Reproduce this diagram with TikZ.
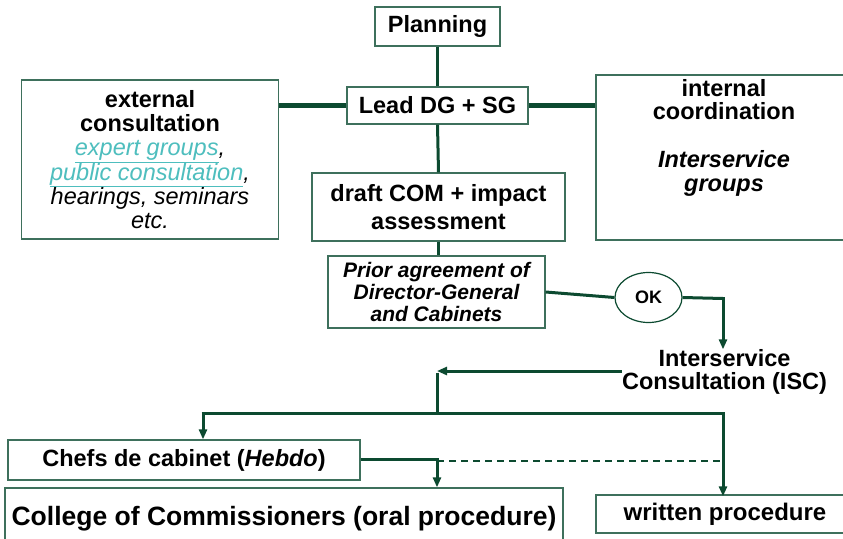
\documentclass[tikz,border=0pt]{standalone}
\usepackage{fontspec}
\setmainfont{Liberation Sans}
\usetikzlibrary{arrows.meta,shapes.geometric}
\definecolor{lineg}{RGB}{12,74,48}
\definecolor{boxg}{RGB}{62,112,92}
\definecolor{linkc}{RGB}{78,190,190}
\tikzset{
  box/.style={draw=boxg,line width=1.3pt,fill=white,inner sep=0pt,align=center,font=\bfseries\fontsize{23.5}{24.5}\selectfont},
  conn/.style={draw=lineg,line width=3pt},
  thick conn/.style={draw=lineg,line width=5pt},
  arr/.style={draw=lineg,line width=3pt,-{Triangle[length=10pt,width=8pt]}},
  plain/.style={inner sep=0pt,align=center}
}
\newcommand{\lnk}[1]{\textcolor{linkc}{\underline{\textit{#1}}}}
\begin{document}
\begin{tikzpicture}[x=1pt,y=-1pt]
\useasboundingbox (0,0) rectangle (843,538);
% nodes
\node[box,minimum width=125pt,minimum height=39pt] (plan) at (437.5,26.5) {Planning};
\node[box,minimum width=181pt,minimum height=37pt] (lead) at (437.5,105.5) {Lead DG + SG};
\node[box,minimum width=257pt,minimum height=159pt,font=\mdseries\fontsize{23.5}{24.2}\selectfont] (ext) at (150,159.5)
  {\textbf{external}\\ \textbf{consultation}\\
   \lnk{expert groups}\textit{,}\\
   \lnk{public consultation}\textit{,}\\
   \textit{hearings, seminars}\\ \textit{etc.}};
\node[box,minimum width=258pt,minimum height=165pt] (int) at (725,157.5) {};
\node[plain,anchor=north,font=\bfseries\fontsize{23.5}{23.7}\selectfont] (inttext) at (724,79)
  {internal\\coordination\\[23.7pt] \textit{Interservice}\\ \textit{groups}};
\node[box,minimum width=253pt,minimum height=68pt,font=\bfseries\fontsize{23.5}{28}\selectfont] (draft) at (438.5,207) {draft COM + impact\\assessment};
\node[box,minimum width=217pt,minimum height=72pt,font=\bfseries\itshape\fontsize{21}{22}\selectfont] (prior) at (436.5,292) {Prior agreement of\\Director-General\\and Cabinets};
\node[draw=lineg,line width=1.2pt,ellipse,fill=white,minimum width=67pt,minimum height=50pt,inner sep=0pt,font=\bfseries\fontsize{18}{20}\selectfont] (ok) at (648.5,297.5) {OK};
\node[plain,font=\bfseries\fontsize{23.5}{23}\selectfont] (isc) at (724.5,372) {Interservice\\Consultation (ISC)};
\node[box,minimum width=352pt,minimum height=40pt,font=\bfseries\fontsize{23.5}{24}\selectfont] (chefs) at (184,460) {Chefs de cabinet (\textit{Hebdo})};
\node[box,minimum width=558pt,minimum height=62pt,font=\bfseries\fontsize{26.5}{28}\selectfont] (college) at (284,519) {College of Commissioners (oral procedure)};
\node[box,minimum width=258pt,minimum height=38pt,font=\bfseries\fontsize{24}{26}\selectfont] (written) at (725,514) {written procedure};
% coordinates
\coordinate (okc) at (723,298.5);
\coordinate (t1) at (437,371);
\coordinate (t2) at (437,413);
\coordinate (bl) at (203,413);
\coordinate (br) at (723,413);
\coordinate (cj) at (437,459);
\coordinate (dj) at (437,461);
\coordinate (dr) at (723,461);
% connectors
\draw[conn] (plan.south) -- (lead.north);
\draw[thick conn] (lead.west) -- (ext.east |- lead.west);
\draw[thick conn] (lead.east) -- (int.west |- lead.east);
\draw[conn] (lead.south) -- (draft.north);
\draw[conn] (draft.south) -- (draft.south |- prior.north);
\draw[conn] (prior.east) -- (ok.west);
\draw[conn] (ok.east) -- (okc);
\draw[arr] ([yshift=1.5pt]okc) -- (okc |- isc.north);
\draw[arr] (isc.west |- t1) -- (t1);
\draw[conn] ([yshift=-1.5pt]t1) -- (t2);
\draw[conn] ([xshift=-1.5pt]bl) -- ([xshift=1.5pt]br);
\draw[arr] ([yshift=-1.5pt]bl) -- (bl |- chefs.north);
\draw[arr] ([yshift=-1.5pt]br) -- ([yshift=-2pt]br |- written.north);
\draw[conn] (chefs.east |- cj) -- ([xshift=1.5pt]cj);
\draw[arr] ([yshift=-1.5pt]cj) -- (cj |- college.north);
\draw[draw=lineg,line width=2pt,dash pattern=on 7pt off 5pt] (dj) -- (dr);
\end{tikzpicture}
\end{document}
